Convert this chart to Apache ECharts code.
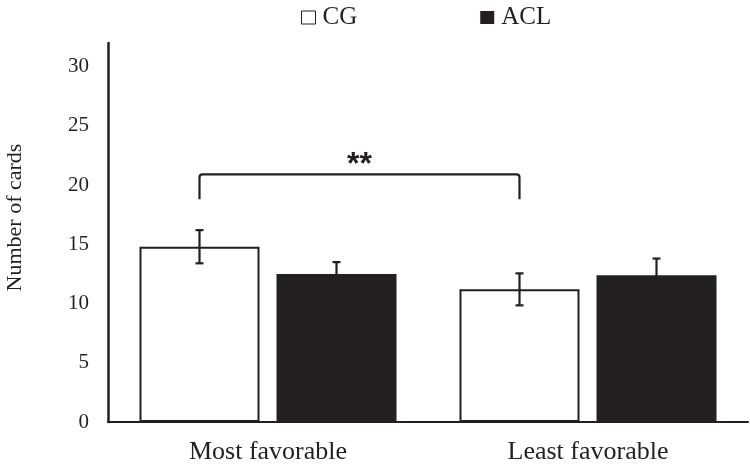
<!DOCTYPE html>
<html>
<head>
<meta charset="utf-8">
<script src="https://cdn.jsdelivr.net/npm/echarts@6/dist/echarts.min.js"></script>
<style>html,body{margin:0;padding:0;background:#fff}#c{width:750px;height:464px}</style>
</head>
<body>
<div id="c"></div>
<script>
const categories = ['Most favorable', 'Least favorable'];
const seriesNames = ['CG', 'ACL'];
const cgMean = [14.8, 11.2];
const cgErr = [1.4, 1.35];
const aclMean = [12.5, 12.4];
const aclErr = [1.0, 1.4];
const yTicks = [0, 5, 10, 15, 20, 25, 30];
// significance bracket: from CG of category 0 to CG of category 1
const bracketFrom = 0, bracketTo = 1;
const bracketLow = 18.8, bracketHigh = 20.9, starsAt = 21.7;
const starsText = '**';

const dark = '#231f20';
const BAR_W = 120, GAP = 17;
const OFF = (BAR_W + GAP) / 2;
const serif = 'Liberation Serif';

const chart = echarts.init(document.getElementById('c'));

function errRender(means, errs, sign) {
  return function (params, api) {
    const i = api.value(0);
    const c = api.coord([i, means[i]]);
    const x = c[0] + sign * OFF;
    const top = api.coord([i, means[i] + errs[i]])[1];
    const bot = api.coord([i, means[i] - errs[i]])[1];
    const st = { stroke: dark, lineWidth: 2.2 };
    return {
      type: 'group',
      children: [
        { type: 'line', shape: { x1: x, y1: top, x2: x, y2: bot }, style: st },
        { type: 'line', shape: { x1: x - 4, y1: top, x2: x + 4, y2: top }, style: st },
        { type: 'line', shape: { x1: x - 4, y1: bot, x2: x + 4, y2: bot }, style: st }
      ]
    };
  };
}

chart.setOption({
  animation: false,
  backgroundColor: '#fff',
  legend: {
    top: 0,
    left: 296,
    itemWidth: 14,
    itemHeight: 13,
    itemGap: 123,
    icon: 'rect',
    textStyle: { fontFamily: serif, fontSize: 25, color: dark, padding: [0, 0, 0, 2] },
    data: [
      { name: 'CG', itemStyle: { color: '#fff', borderColor: dark, borderWidth: 1 } },
      { name: 'ACL', itemStyle: { color: dark } }
    ]
  },
  grid: { left: 108, right: 2, top: 43, bottom: 42, containLabel: false, outerBoundsMode: 'none' },
  xAxis: {
    type: 'category',
    data: categories,
    axisLine: { lineStyle: { color: dark, width: 2 } },
    axisTick: { show: false },
    axisLabel: { fontFamily: serif, fontSize: 26, color: dark, margin: 17 }
  },
  yAxis: {
    type: 'value',
    min: 0,
    max: 32,
    interval: 5,
    name: 'Number of cards',
    nameLocation: 'middle',
    nameGap: 82,
    nameTextStyle: { fontFamily: serif, fontSize: 22, color: dark, padding: [0, 0, 0, 30] },
    axisLine: { show: true, lineStyle: { color: dark, width: 2.5 } },
    axisTick: { show: false },
    splitLine: { show: false },
    axisLabel: {
      fontFamily: serif, fontSize: 21, color: dark, margin: 19,
      showMaxLabel: false,
      formatter: v => (yTicks.indexOf(v) >= 0 ? String(v) : '')
    }
  },
  series: [
    {
      name: seriesNames[0], type: 'bar', data: cgMean, barWidth: BAR_W, barGap: (GAP / BAR_W * 100) + '%',
      itemStyle: { color: '#fff', borderColor: dark, borderWidth: 2 }
    },
    {
      name: seriesNames[1], type: 'bar', data: aclMean, barWidth: BAR_W,
      itemStyle: { color: dark }
    },
    {
      type: 'custom', data: [[0], [1]], renderItem: errRender(cgMean, cgErr, -1), z: 5, silent: true
    },
    {
      type: 'custom', data: [[0], [1]], renderItem: errRender(aclMean, aclErr, 1), z: 5, silent: true
    },
    {
      type: 'custom', data: [[0]], z: 6, silent: true,
      renderItem: function (params, api) {
        const xa = api.coord([bracketFrom, 0])[0] - OFF;
        const xb = api.coord([bracketTo, 0])[0] - OFF;
        const yl = api.coord([0, bracketLow])[1];
        const yh = api.coord([0, bracketHigh])[1];
        const ys = api.coord([0, starsAt])[1];
        const r = 3;
        return {
          type: 'group',
          children: [
            {
              type: 'path',
              shape: {
                pathData: `M${xa},${yl} L${xa},${yh + r} Q${xa},${yh} ${xa + r},${yh} L${xb - r},${yh} Q${xb},${yh} ${xb},${yh + r} L${xb},${yl}`
              },
              style: { stroke: dark, lineWidth: 2.2, fill: null }
            },
            {
              type: 'text',
              style: {
                text: starsText, x: (xa + xb) / 2, y: ys,
                align: 'center', verticalAlign: 'middle',
                font: 'bold 32px "Liberation Sans"', fill: dark
              }
            }
          ]
        };
      }
    }
  ]
});
</script>
</body>
</html>
